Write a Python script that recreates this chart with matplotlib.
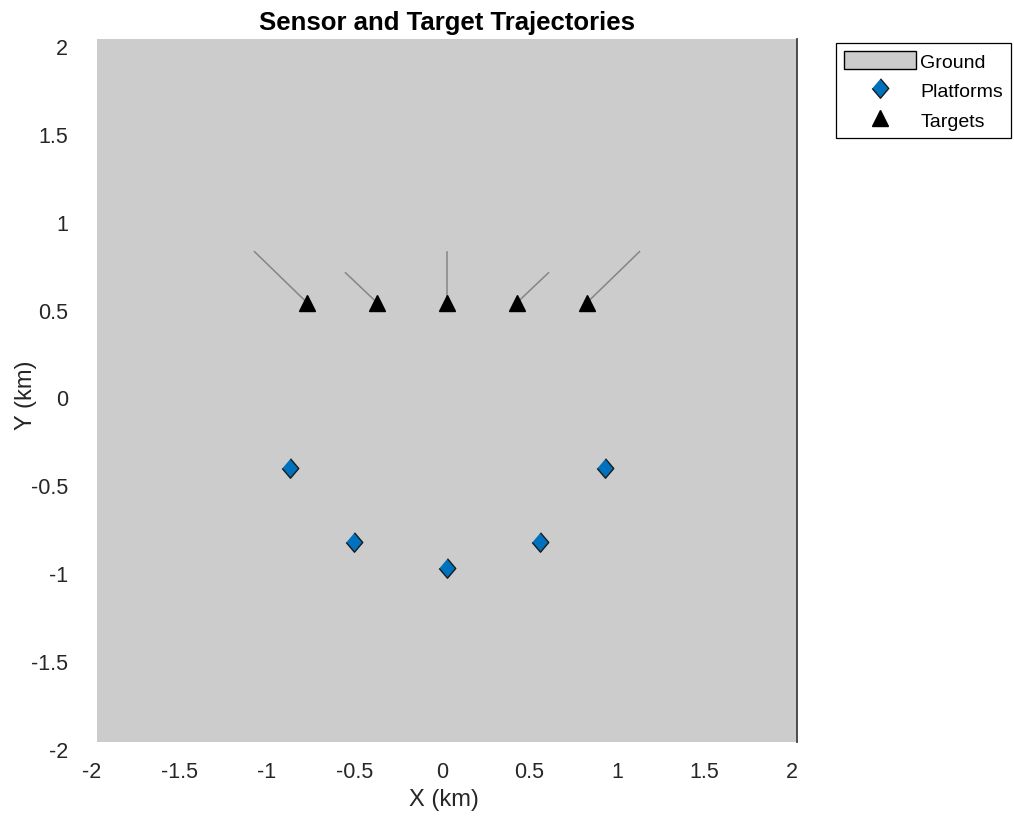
import matplotlib
matplotlib.use("Agg")
import matplotlib.pyplot as plt
from matplotlib.patches import Rectangle
from matplotlib.transforms import ScaledTranslation

plt.rcParams["font.family"] = ["Liberation Sans", "DejaVu Sans"]

# ground extent (km)
ground_x = [-2.0, 2.0]
ground_y = [-2.0, 2.0]

# platform positions (km)
platform_x = [-0.90, -0.53, 0.0, 0.53, 0.90]
platform_y = [-0.44, -0.86, -1.01, -0.86, -0.44]

# target trajectories: start and current position (km)
target_start_x = [-1.10, -0.58, 0.0, 0.58, 1.10]
target_start_y = [0.79, 0.67, 0.79, 0.67, 0.79]
target_x = [-0.80, -0.40, 0.0, 0.40, 0.80]
target_y = [0.50, 0.50, 0.50, 0.50, 0.50]

ticks = [-2, -1.5, -1, -0.5, 0, 0.5, 1, 1.5, 2]
tick_labels = ["-2", "-1.5", "-1", "-0.5", "0", "0.5", "1", "1.5", "2"]

TEXT = "#262626"
GROUND = "#cccccc"

fig = plt.figure(figsize=(10.14, 8.2), dpi=100)
ax = fig.add_axes([97 / 1014, 77 / 820, 700 / 1014, 703 / 820])

ground = Rectangle((ground_x[0], ground_y[0]), ground_x[1] - ground_x[0],
                   ground_y[1] - ground_y[0], facecolor=GROUND, edgecolor="none",
                   zorder=0)
ax.add_patch(ground)

for x0, y0, x1, y1 in zip(target_start_x, target_start_y, target_x, target_y):
    ax.plot([x0, x1], [y0, y1], color="#858585", lw=1.1, zorder=2)

diamond = [(0, 1), (0.85, 0), (0, -1), (-0.85, 0)]
ax.plot(platform_x, platform_y, ls="none", marker=diamond, ms=14,
        mfc="#0072bd", mec="#1a1a1a", mew=1.0, zorder=3)
ax.plot(target_x, target_y, ls="none", marker="^", ms=12,
        mfc="black", mec="black", mew=1.0, zorder=3)

ax.set_xlim(ground_x)
ax.set_ylim(ground_y)
ax.set_xticks(ticks)
ax.set_xticklabels(tick_labels)
ax.set_yticks(ticks)
ax.set_yticklabels(tick_labels)
ax.tick_params(length=0, labelsize=15.5, colors=TEXT)
ax.tick_params(axis="x", pad=14)
ax.tick_params(axis="y", pad=21)
for side in ["top", "left", "bottom"]:
    ax.spines[side].set_visible(False)
ax.spines["right"].set_color("#404040")
ax.spines["right"].set_linewidth(1.3)

# MATLAB's 3-D view puts the tick labels slightly off the grid
for lab in ax.get_yticklabels():
    lab.set_transform(lab.get_transform() + ScaledTranslation(0, -0.07, fig.dpi_scale_trans))
for lab in ax.get_xticklabels():
    lab.set_transform(lab.get_transform() + ScaledTranslation(-0.05, 0, fig.dpi_scale_trans))

ax.set_xlabel("X (km)", fontsize=17, color=TEXT)
ax.set_ylabel("Y (km)", fontsize=17, color=TEXT)
ax.xaxis.set_label_coords(0.5 - 0.004, -0.066)
ax.yaxis.set_label_coords(-0.086, 0.495)
ax.set_title("Sensor and Target Trajectories", fontsize=18.5, fontweight="bold",
             pad=7)

handles = [
    Rectangle((0, 0), 1, 1, facecolor=GROUND, edgecolor="black", lw=1.0),
    plt.Line2D([], [], ls="none", marker=diamond, ms=14, mfc="#0072bd", mec="#1a1a1a"),
    plt.Line2D([], [], ls="none", marker="^", ms=12, mfc="black", mec="black"),
]
leg = fig.legend(handles, ["Ground", "Platforms", "Targets"], loc="upper left",
                 bbox_to_anchor=(836 / 1014, 1 - 44 / 820), borderaxespad=0,
                 fontsize=14, frameon=True, fancybox=False, handlelength=3.7,
                 handleheight=1.05, handletextpad=0.22, borderpad=0.42,
                 labelspacing=0.5)
leg.get_frame().set_edgecolor("black")
leg.get_frame().set_linewidth(0.9)
leg.get_frame().set_alpha(1)

fig.savefig("out.png", dpi=100)
